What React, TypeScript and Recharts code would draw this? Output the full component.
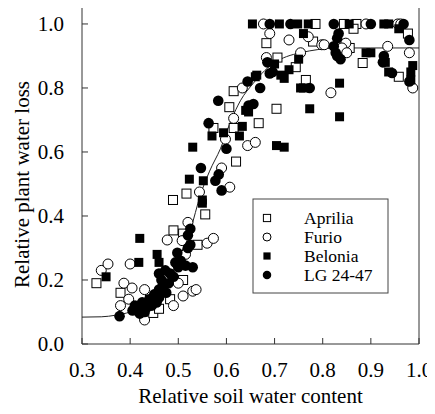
import { ScatterChart, Scatter, XAxis, YAxis } from "recharts";

// [relative soil water content, relative plant water loss]
const aprilia: [number, number][] = [
  [0.33, 0.19], [0.38, 0.16], [0.448, 0.097], [0.46, 0.11], [0.483, 0.14],
  [0.51, 0.2], [0.54, 0.31], [0.49, 0.355], [0.51, 0.345], [0.489, 0.45],
  [0.517, 0.47], [0.556, 0.405], [0.62, 0.57], [0.573, 0.675], [0.606, 0.74],
  [0.615, 0.79], [0.615, 0.675], [0.667, 0.69], [0.704, 0.735], [0.683, 0.94],
  [0.706, 0.895], [0.744, 0.865], [0.765, 0.825], [0.785, 1.0], [0.78, 0.945],
  [0.844, 1.0], [0.87, 1.0], [0.864, 0.985], [0.856, 0.925], [0.883, 0.878],
  [0.958, 0.835], [0.977, 0.97],
];

const furio: [number, number][] = [
  [0.34, 0.23], [0.354, 0.25], [0.4, 0.25], [0.387, 0.19], [0.404, 0.175],
  [0.38, 0.12], [0.397, 0.14], [0.43, 0.075], [0.43, 0.17], [0.477, 0.325],
  [0.49, 0.12], [0.5, 0.19], [0.51, 0.15], [0.53, 0.165], [0.537, 0.17],
  [0.515, 0.28], [0.52, 0.38], [0.508, 0.323], [0.56, 0.315], [0.573, 0.33],
  [0.544, 0.475], [0.59, 0.55], [0.607, 0.49], [0.598, 0.64], [0.615, 0.705],
  [0.633, 0.8], [0.644, 0.62], [0.66, 0.63], [0.683, 0.895], [0.69, 0.97],
  [0.677, 1.0], [0.73, 0.95], [0.754, 0.91], [0.77, 0.96], [0.798, 0.935],
  [0.817, 0.785], [0.803, 0.935], [0.848, 0.94], [0.84, 0.925], [0.85, 0.91],
  [0.89, 1.0], [0.935, 0.93], [0.956, 1.0], [0.962, 1.0], [0.98, 0.91],
  [0.987, 0.8],
];

const belonia: [number, number][] = [
  [0.35, 0.21], [0.418, 0.255], [0.42, 0.33], [0.456, 0.28], [0.46, 0.255],
  [0.43, 0.12], [0.47, 0.19], [0.44, 0.14], [0.55, 0.44], [0.53, 0.615],
  [0.523, 0.515], [0.552, 0.51], [0.55, 0.45], [0.57, 0.65], [0.594, 0.66],
  [0.633, 0.68], [0.627, 0.65], [0.64, 0.73], [0.646, 0.725], [0.663, 0.84],
  [0.66, 0.835], [0.654, 1.0], [0.71, 1.0], [0.748, 1.0], [0.77, 1.0],
  [0.76, 0.97], [0.7, 0.875], [0.73, 0.857], [0.75, 0.89], [0.713, 0.84],
  [0.72, 0.83], [0.754, 0.8], [0.76, 0.8], [0.773, 0.735], [0.835, 0.815],
  [0.835, 0.71], [0.704, 0.62], [0.72, 0.615], [0.855, 1.0], [0.927, 1.0],
  [0.937, 1.0], [0.958, 0.985], [0.89, 0.91], [0.9, 0.91], [0.93, 0.88],
  [0.937, 0.85], [0.987, 0.87], [0.983, 0.85], [0.983, 0.825],
];

const lg2447: [number, number][] = [
  [0.378, 0.087], [0.405, 0.105], [0.41, 0.12], [0.42, 0.115], [0.42, 0.095],
  [0.425, 0.13], [0.43, 0.1], [0.435, 0.115], [0.44, 0.14], [0.445, 0.12],
  [0.45, 0.155], [0.455, 0.13], [0.46, 0.17], [0.46, 0.145], [0.465, 0.2],
  [0.467, 0.18], [0.46, 0.22], [0.473, 0.23], [0.475, 0.16], [0.48, 0.19],
  [0.483, 0.22], [0.49, 0.21], [0.494, 0.255], [0.498, 0.285], [0.5, 0.24],
  [0.505, 0.26], [0.515, 0.245], [0.53, 0.24], [0.52, 0.3], [0.525, 0.31],
  [0.52, 0.34], [0.525, 0.36], [0.547, 0.55], [0.584, 0.53], [0.577, 0.51],
  [0.59, 0.48], [0.6, 0.61], [0.563, 0.69], [0.583, 0.76], [0.644, 0.82],
  [0.67, 0.8], [0.656, 0.75], [0.646, 0.745], [0.685, 0.88], [0.69, 0.845],
  [0.696, 0.85], [0.773, 0.8], [0.69, 1.0], [0.733, 1.0], [0.823, 1.0],
  [0.9, 1.0], [0.968, 1.0], [0.833, 0.97], [0.83, 0.955], [0.823, 0.93],
  [0.827, 0.91], [0.83, 0.9], [0.837, 0.89], [0.927, 0.9], [0.925, 0.88],
  [0.944, 0.847], [0.98, 0.95], [0.98, 0.82],
];

// fitted curve
const fitCurve: [number, number][] = [
  [0.3, 0.084], [0.34, 0.085], [0.37, 0.09], [0.4, 0.1], [0.43, 0.12],
  [0.46, 0.16], [0.49, 0.23], [0.51, 0.3], [0.525, 0.356], [0.546, 0.466],
  [0.565, 0.54], [0.5875, 0.61], [0.61, 0.7], [0.629, 0.76], [0.656, 0.815],
  [0.68, 0.855], [0.698, 0.878], [0.725, 0.898], [0.754, 0.91], [0.79, 0.92],
  [0.837, 0.925], [0.9, 0.925], [1.0, 0.925],
];

const xTicks = [0.3, 0.4, 0.5, 0.6, 0.7, 0.8, 0.9, 1.0];
const yTicks = [0, 0.2, 0.4, 0.6, 0.8, 1.0];

const FONT = "'Liberation Serif', 'Times New Roman', serif";
const AXIS = "#333";

const toPts = (arr: [number, number][]) => arr.map(([x, y]) => ({ x, y }));

type Kind = "hollowSquare" | "hollowCircle" | "filledSquare" | "filledCircle";

function marker(kind: Kind, cx: number, cy: number, s = 1) {
  if (kind === "hollowSquare")
    return <rect x={cx - 4.5 * s} y={cy - 4.5 * s} width={9 * s} height={9 * s} fill="#fff" stroke="#000" strokeWidth={1} />;
  if (kind === "hollowCircle")
    return <circle cx={cx} cy={cy} r={5 * s} fill="#fff" stroke="#000" strokeWidth={1} />;
  if (kind === "filledSquare")
    return <rect x={cx - 4.5 * s} y={cy - 4.5 * s} width={9 * s} height={9 * s} fill="#000" />;
  return <circle cx={cx} cy={cy} r={5.3 * s} fill="#000" />;
}

const shapeOf = (kind: Kind) => (p: any) => <g>{marker(kind, p.cx, p.cy)}</g>;

const legendItems: { name: string; kind: Kind }[] = [
  { name: "Aprilia", kind: "hollowSquare" },
  { name: "Furio", kind: "hollowCircle" },
  { name: "Belonia", kind: "filledSquare" },
  { name: "LG 24-47", kind: "filledCircle" },
];

function LegendBox() {
  return (
    <svg width={137} height={96} style={{ position: "absolute", left: 252, top: 198 }}>
      <rect x={1} y={1} width={135} height={94} fill="#fff" stroke="#444" strokeWidth={1} />
      {legendItems.map((it, i) => {
        const cy = 20 + i * 19;
        return (
          <g key={it.name}>
            {marker(it.kind, 15, cy, 0.8)}
            <text x={52} y={cy + 6} fontSize={17.5} fontFamily={FONT} fill="#000">
              {it.name}
            </text>
          </g>
        );
      })}
    </svg>
  );
}

export default function App() {
  const tickStyle = { fontSize: 21, fill: "#000", fontFamily: FONT };
  return (
    <div style={{ position: "relative", margin: -8, width: 435, height: 414, background: "#fff" }}>
      <ScatterChart width={435} height={414} margin={{ top: 6, right: 15, bottom: 0, left: 0 }}>
        <XAxis
          xAxisId="b"
          dataKey="x"
          type="number"
          domain={[0.3, 1.0]}
          ticks={xTicks}
          allowDataOverflow
          height={70}
          tickSize={-6}
          tickMargin={24}
          tick={tickStyle}
          tickFormatter={(v: number) => v.toFixed(1)}
          axisLine={{ stroke: AXIS }}
          tickLine={{ stroke: AXIS }}
          label={{ value: "Relative soil water content", position: "insideBottom", offset: 11, fontSize: 21, fill: "#000", fontFamily: FONT }}
        />
        <XAxis
          xAxisId="t"
          orientation="top"
          dataKey="x"
          type="number"
          domain={[0.3, 1.0]}
          ticks={xTicks}
          allowDataOverflow
          height={1}
          tickSize={-6}
          tick={false}
          axisLine={{ stroke: AXIS }}
          tickLine={{ stroke: AXIS }}
        />
        <YAxis
          yAxisId="l"
          dataKey="y"
          type="number"
          domain={[0, 1.053]}
          ticks={yTicks}
          allowDataOverflow
          width={82}
          tickSize={-6}
          tickMargin={24}
          tick={tickStyle}
          tickFormatter={(v: number) => v.toFixed(1)}
          axisLine={{ stroke: AXIS }}
          tickLine={{ stroke: AXIS }}
          label={{ value: "Relative plant water loss", angle: -90, position: "insideLeft", offset: 22, dy: 9, fontSize: 21, fill: "#000", fontFamily: FONT, style: { textAnchor: "middle" } }}
        />
        <YAxis
          yAxisId="r"
          orientation="right"
          dataKey="y"
          type="number"
          domain={[0, 1.053]}
          ticks={yTicks}
          allowDataOverflow
          width={1}
          tickSize={-6}
          tick={false}
          axisLine={{ stroke: AXIS }}
          tickLine={{ stroke: AXIS }}
        />
        <Scatter
          xAxisId="b"
          yAxisId="l"
          data={toPts(fitCurve)}
          line={{ stroke: "#222", strokeWidth: 1 }}
          lineType="joint"
          lineJointType="monotoneX"
          shape={() => <g />}
          isAnimationActive={false}
        />
        <Scatter xAxisId="b" yAxisId="l" name="Aprilia" data={toPts(aprilia)} shape={shapeOf("hollowSquare")} isAnimationActive={false} />
        <Scatter xAxisId="b" yAxisId="l" name="Furio" data={toPts(furio)} shape={shapeOf("hollowCircle")} isAnimationActive={false} />
        <Scatter xAxisId="b" yAxisId="l" name="Belonia" data={toPts(belonia)} shape={shapeOf("filledSquare")} isAnimationActive={false} />
        <Scatter xAxisId="b" yAxisId="l" name="LG 24-47" data={toPts(lg2447)} shape={shapeOf("filledCircle")} isAnimationActive={false} />
      </ScatterChart>
      <LegendBox />
    </div>
  );
}
